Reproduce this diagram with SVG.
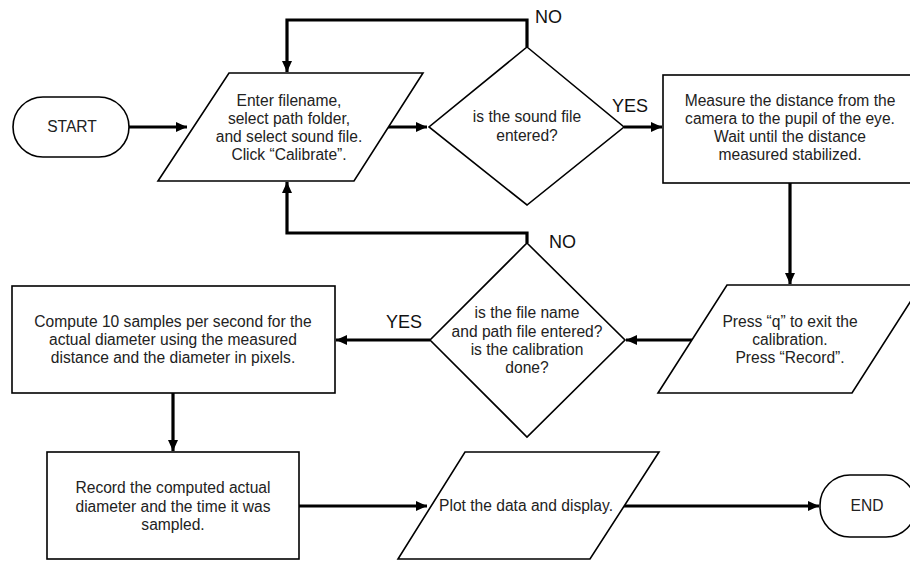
<svg xmlns="http://www.w3.org/2000/svg" width="910" height="561" viewBox="0 0 910 561">
<defs>
<marker id="ah" markerUnits="userSpaceOnUse" markerWidth="12" markerHeight="10" refX="11" refY="5" orient="auto">
<path d="M0,0 L11,5 L0,10 Z" fill="#000"/>
</marker>
<style>
.s{fill:#fff;stroke:#000;stroke-width:1.6}
.t{font-family:"Liberation Sans",Arial,sans-serif;font-size:15.6px;fill:#222;text-anchor:middle}
.l{font-family:"Liberation Sans",Arial,sans-serif;font-size:18px;fill:#111}
.c{fill:none;stroke:#000;stroke-width:3.2}
</style>
</defs>
<rect width="910" height="561" fill="#fff"/>
<g id="connectors">
<path class="c" d="M129,127 H187" marker-end="url(#ah)"/>
<path class="c" d="M387,127 H427" marker-end="url(#ah)"/>
<path class="c" d="M527,47 V20 H287 V72" marker-end="url(#ah)"/>
<path class="c" d="M624,127 H662" marker-end="url(#ah)"/>
<path class="c" d="M790,183 V284" marker-end="url(#ah)"/>
<path class="c" d="M692,340 H626" marker-end="url(#ah)"/>
<path class="c" d="M527,243 V233 H287 V182" marker-end="url(#ah)"/>
<path class="c" d="M430,340 H336" marker-end="url(#ah)"/>
<path class="c" d="M173,393 V451" marker-end="url(#ah)"/>
<path class="c" d="M299,506 H427" marker-end="url(#ah)"/>
<path class="c" d="M624,506 H819" marker-end="url(#ah)"/>
<text class="l" x="535" y="23">NO</text>
<text class="l" x="612" y="112">YES</text>
<text class="l" x="549" y="248">NO</text>
<text class="l" x="386" y="328">YES</text>
</g>
<g id="start">
<rect class="s" x="13" y="97" width="116" height="60" rx="30"/>
<text class="t" x="72" y="132">START</text>
</g>
<g id="input1">
<polygon class="s" points="229,73 423,73 354,181 158,181"/>
<text class="t" x="289" y="106">Enter filename,</text>
<text class="t" x="289" y="124">select path folder,</text>
<text class="t" x="289" y="142">and select sound file.</text>
<text class="t" x="289" y="160">Click “Calibrate”.</text>
</g>
<g id="decision1">
<polygon class="s" points="527,47 624,127 527,205 429,127"/>
<text class="t" x="527" y="122">is the sound file</text>
<text class="t" x="527" y="141">entered?</text>
</g>
<g id="measure">
<rect class="s" x="663" y="75" width="260" height="108"/>
<text class="t" x="790" y="106">Measure the distance from the</text>
<text class="t" x="790" y="124">camera to the pupil of the eye.</text>
<text class="t" x="790" y="142">Wait until the distance</text>
<text class="t" x="790" y="160">measured stabilized.</text>
</g>
<g id="input2">
<polygon class="s" points="727,285 921,285 852,393 658,393"/>
<text class="t" x="790" y="327">Press “q” to exit the</text>
<text class="t" x="790" y="345">calibration.</text>
<text class="t" x="790" y="363">Press “Record”.</text>
</g>
<g id="decision2">
<polygon class="s" points="527,243 625,340 527,437 430,340"/>
<text class="t" x="527" y="318">is the file name</text>
<text class="t" x="527" y="337">and path file entered?</text>
<text class="t" x="527" y="355">is the calibration</text>
<text class="t" x="527" y="373">done?</text>
</g>
<g id="compute">
<rect class="s" x="12" y="286" width="323" height="107"/>
<text class="t" x="173" y="327">Compute 10 samples per second for the</text>
<text class="t" x="173" y="345">actual diameter using the measured</text>
<text class="t" x="173" y="363">distance and the diameter in pixels.</text>
</g>
<g id="record">
<rect class="s" x="47" y="452" width="252" height="107"/>
<text class="t" x="173" y="493">Record the computed actual</text>
<text class="t" x="173" y="512">diameter and the time it was</text>
<text class="t" x="173" y="530">sampled.</text>
</g>
<g id="plot">
<polygon class="s" points="465,452 659,452 590,559 398,559"/>
<text class="t" x="526" y="511">Plot the data and display.</text>
</g>
<g id="end">
<rect class="s" x="820" y="475" width="96" height="62" rx="30"/>
<text class="t" x="867" y="511">END</text>
</g>
</svg>
